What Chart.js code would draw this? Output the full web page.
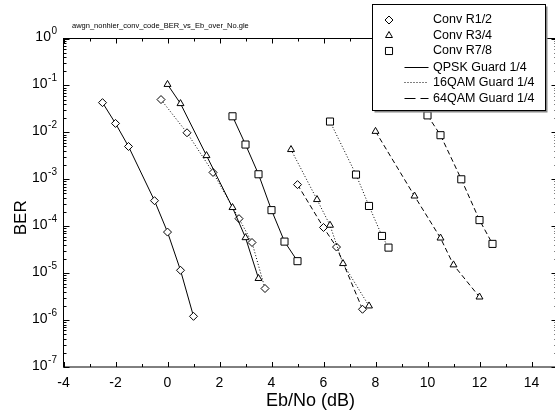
<!DOCTYPE html>
<html>
<head>
<meta charset="utf-8">
<script src="https://cdn.jsdelivr.net/npm/chart.js@4/dist/chart.umd.min.js"></script>
<style>
  html, body { margin: 0; padding: 0; background: #fff; overflow: hidden; }
  canvas { display: block; }
</style>
</head>
<body>
<canvas id="berChart" width="560" height="410"></canvas>
<script>
// Eb/No (dB) and BER per modulation / code rate
const qpskR12Eb = [-2.5, -2, -1.5, -0.5, 0, 0.5, 1];
const qpskR12Ber = [4.3e-2, 1.55e-2, 5e-3, 3.5e-4, 7.5e-5, 1.15e-5, 1.2e-6];
const qpskR34Eb = [0, 0.5, 1.5, 2.5, 3, 3.5];
const qpskR34Ber = [0.105, 0.041, 3.2e-3, 2.5e-4, 5.7e-5, 7.7e-6];
const qpskR78Eb = [2.5, 3, 3.5, 4, 4.5, 5];
const qpskR78Ber = [0.022, 5.5e-3, 1.28e-3, 2.2e-4, 4.7e-5, 1.8e-5];

const qam16R12Eb = [-0.25, 0.75, 1.75, 2.75, 3.25, 3.75];
const qam16R12Ber = [0.05, 9.8e-3, 1.4e-3, 1.45e-4, 4.5e-5, 4.7e-6];
const qam16R34Eb = [4.75, 5.75, 6.25, 6.75, 7.75];
const qam16R34Ber = [4.3e-3, 3.7e-4, 1.05e-4, 1.6e-5, 2.0e-6];
const qam16R78Eb = [6.25, 7.25, 7.75, 8.25, 8.5];
const qam16R78Ber = [0.017, 1.26e-3, 2.7e-4, 6.2e-5, 3.5e-5];

const qam64R12Eb = [5, 6, 6.5, 7.5];
const qam64R12Ber = [7.7e-4, 9.4e-5, 3.6e-5, 1.7e-6];
const qam64R34Eb = [8, 9.5, 10.5, 11, 12];
const qam64R34Ber = [0.0105, 4.4e-4, 5.6e-5, 1.5e-5, 3.1e-6];
const qam64R78Eb = [10, 10.5, 11.3, 12, 12.5];
const qam64R78Ber = [0.023, 8.7e-3, 1e-3, 1.35e-4, 4.2e-5];

const xTickValues = [-4, -2, 0, 2, 4, 6, 8, 10, 12, 14];
const yExponents = [0, -1, -2, -3, -4, -5, -6, -7];

const rateLabels = ['Conv R1/2', 'Conv R3/4', 'Conv R7/8'];
const modLabels = ['QPSK Guard 1/4', '16QAM Guard 1/4', '64QAM Guard 1/4'];
const fileTitle = 'awgn_nonhier_conv_code_BER_vs_Eb_over_No.gle';

const FONT = '"Liberation Sans", Arial, Helvetica, sans-serif';

// marker per code rate, dash per modulation
const rateMarkers = [
  { style: 'rectRot', radius: 4 },
  { style: 'triangle', radius: 4 },
  { style: 'rect', radius: 5 }
];
const modDashes = [[], [1, 2], [5, 3]];
const legendDashes = [[], [1, 2], [11, 5]];

function toPoints(xs, ys) {
  return xs.map((v, i) => ({ x: v, y: ys[i] }));
}

function series(xs, ys, rate, mod) {
  return {
    data: toPoints(xs, ys),
    showLine: true,
    borderColor: '#000',
    borderWidth: 1,
    borderDash: modDashes[mod],
    tension: 0,
    pointStyle: rateMarkers[rate].style,
    pointRadius: rateMarkers[rate].radius,
    pointHoverRadius: rateMarkers[rate].radius,
    pointBackgroundColor: '#fff',
    pointBorderColor: '#000',
    pointBorderWidth: 1
  };
}

const datasets = [
  series(qpskR12Eb, qpskR12Ber, 0, 0),
  series(qpskR34Eb, qpskR34Ber, 1, 0),
  series(qpskR78Eb, qpskR78Ber, 2, 0),
  series(qam16R12Eb, qam16R12Ber, 0, 1),
  series(qam16R34Eb, qam16R34Ber, 1, 1),
  series(qam16R78Eb, qam16R78Ber, 2, 1),
  series(qam64R12Eb, qam64R12Ber, 0, 2),
  series(qam64R34Eb, qam64R34Ber, 1, 2),
  series(qam64R78Eb, qam64R78Ber, 2, 2)
];

function drawMarker(ctx, style, radius, x, y) {
  if (Chart.helpers && Chart.helpers.drawPoint) {
    Chart.helpers.drawPoint(ctx, { pointStyle: style, radius: radius, rotation: 0, borderWidth: 1 }, x, y);
    return;
  }
  ctx.beginPath();
  if (style === 'rectRot') {
    ctx.moveTo(x, y - radius); ctx.lineTo(x + radius, y);
    ctx.lineTo(x, y + radius); ctx.lineTo(x - radius, y);
  } else if (style === 'triangle') {
    for (let k = 0; k < 3; k++) {
      const a = k * 2 * Math.PI / 3;
      ctx[k ? 'lineTo' : 'moveTo'](x + Math.sin(a) * radius, y - Math.cos(a) * radius);
    }
  } else {
    const s = radius * Math.SQRT1_2;
    ctx.rect(x - s, y - s, 2 * s, 2 * s);
  }
  ctx.closePath();
  ctx.fill();
  ctx.stroke();
}

// frame, inward ticks, superscript y labels, file name and legend box
const gleFrame = {
  id: 'gleFrame',
  afterDraw(chart) {
    const { ctx, chartArea: a, scales: { x, y } } = chart;
    ctx.save();
    ctx.strokeStyle = '#000';
    ctx.lineWidth = 1;
    ctx.setLineDash([]);
    ctx.strokeRect(a.left, a.top, a.right - a.left, a.bottom - a.top);

    ctx.beginPath();
    for (let v = Math.ceil(x.min); v <= x.max; v++) {
      const px = Math.round(x.getPixelForValue(v)) + 0.5;
      const len = v % 2 === 0 ? 5 : 3;
      ctx.moveTo(px, a.bottom); ctx.lineTo(px, a.bottom - len);
      ctx.moveTo(px, a.top); ctx.lineTo(px, a.top + len);
    }
    yExponents.forEach(e => {
      for (let m = 1; m <= 9; m++) {
        const v = m * Math.pow(10, e);
        if (v > y.max) break;
        const py = Math.round(y.getPixelForValue(v)) + 0.5;
        const len = m === 1 ? 6 : 3;
        ctx.moveTo(a.left, py); ctx.lineTo(a.left + len, py);
        ctx.moveTo(a.right, py); ctx.lineTo(a.right - len, py);
      }
    });
    ctx.stroke();

    // y tick labels as 10 with superscript exponent
    ctx.fillStyle = '#000';
    const labelRight = a.left - 6.5;
    yExponents.forEach(e => {
      const py = y.getPixelForValue(Math.pow(10, e));
      ctx.font = '10px ' + FONT;
      const sup = String(e);
      const supW = ctx.measureText(sup).width;
      ctx.textAlign = 'left';
      ctx.textBaseline = 'middle';
      ctx.fillText(sup, labelRight - supW, py - 7);
      ctx.font = '14px ' + FONT;
      ctx.textAlign = 'right';
      ctx.fillText('10', labelRight - supW - 0.5, py - 1);
    });

    ctx.save();
    ctx.translate(21, (a.top + a.bottom) / 2 + 15);
    ctx.rotate(-Math.PI / 2);
    ctx.font = '17px ' + FONT;
    ctx.textAlign = 'center';
    ctx.textBaseline = 'middle';
    ctx.fillText('BER', 0, 0);
    ctx.restore();

    ctx.font = '7.5px ' + FONT;
    ctx.textAlign = 'left';
    ctx.textBaseline = 'middle';
    ctx.fillText(fileTitle, a.left + 8.5, a.top - 13);

    // legend
    const bx = 372.5, by = 4.5, bw = 173, bh = 106;
    ctx.fillStyle = '#888';
    ctx.fillRect(bx + 2, by + 2, bw, bh);
    ctx.fillStyle = '#fff';
    ctx.fillRect(bx, by, bw, bh);
    ctx.strokeRect(bx, by, bw, bh);

    const rowY = k => by + 15.5 + k * 15.5;
    const textX = bx + 60.5;
    ctx.font = '12.5px ' + FONT;
    ctx.textBaseline = 'middle';
    rateLabels.forEach((label, k) => {
      const yy = rowY(k);
      ctx.fillStyle = '#fff';
      ctx.strokeStyle = '#000';
      drawMarker(ctx, rateMarkers[k].style, rateMarkers[k].radius, bx + 16.5, yy);
      ctx.fillStyle = '#000';
      ctx.fillText(label, textX, yy);
    });
    modLabels.forEach((label, k) => {
      const yy = Math.round(rowY(k + 3)) + 0.5;
      ctx.setLineDash(legendDashes[k]);
      ctx.beginPath();
      ctx.moveTo(bx + 32, yy);
      ctx.lineTo(bx + 56, yy);
      ctx.stroke();
      ctx.setLineDash([]);
      ctx.fillText(label, textX, yy);
    });
    ctx.restore();
  }
};

new Chart(document.getElementById('berChart'), {
  type: 'scatter',
  data: { datasets: datasets },
  plugins: [gleFrame],
  options: {
    responsive: false,
    animation: false,
    devicePixelRatio: 1,
    layout: { autoPadding: false, padding: { left: 63.5, right: 2.5, top: 38.5, bottom: 0 } },
    plugins: { legend: { display: false }, tooltip: { enabled: false } },
    scales: {
      x: {
        type: 'linear',
        min: -4,
        max: 15,
        grid: { display: false, drawTicks: false },
        border: { display: false },
        afterBuildTicks: scale => { scale.ticks = xTickValues.map(v => ({ value: v })); },
        afterFit: scale => { scale.height = 43; },
        ticks: {
          color: '#000',
          padding: 8,
          maxRotation: 0,
          font: { family: FONT, size: 14, lineHeight: 1.2 }
        },
        title: {
          display: true,
          text: 'Eb/No (dB)',
          color: '#000',
          padding: { top: 0, bottom: -2 },
          font: { family: FONT, size: 18, lineHeight: 1.2 }
        }
      },
      y: {
        type: 'logarithmic',
        display: false,
        min: 1e-7,
        max: 1
      }
    }
  }
});
</script>
</body>
</html>
